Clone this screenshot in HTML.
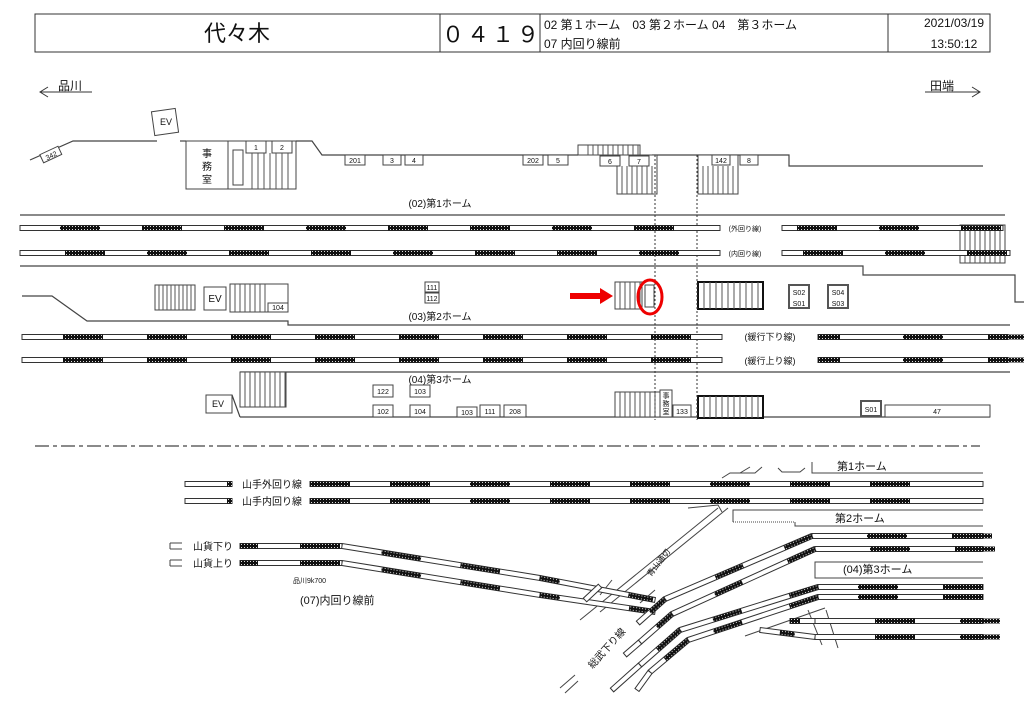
<!DOCTYPE html>
<html><head><meta charset="utf-8">
<style>
html,body{margin:0;padding:0;background:#fff;}
svg{display:block;font-family:"Liberation Sans","Noto Sans CJK JP",sans-serif;}
</style></head>
<body>
<svg id="s" width="1024" height="724" viewBox="0 0 1024 724" xmlns="http://www.w3.org/2000/svg">
<defs>
<pattern id="car" width="3" height="3" patternUnits="userSpaceOnUse">
<rect width="3" height="3" fill="#111"/><rect x="1" y="1" width="1" height="1" fill="#ddd"/>
</pattern>
</defs>
<g fill="none" stroke="#333" stroke-width="1">
<rect x="35" y="14" width="955" height="38" fill="#fff"/>
<line x1="440" y1="14" x2="440" y2="52"/>
<line x1="540" y1="14" x2="540" y2="52"/>
<line x1="888" y1="14" x2="888" y2="52"/>
</g>
<g fill="#111">
<text x="237" y="41" font-size="22" text-anchor="middle">代々木</text>
<text x="492" y="42" font-size="22" text-anchor="middle" letter-spacing="3">０４１９</text>
<text x="544" y="29" font-size="12">02 第１ホーム　03 第２ホーム 04　第３ホーム</text>
<text x="544" y="48" font-size="12">07 内回り線前</text>
<text x="954" y="27" font-size="12" text-anchor="middle">2021/03/19</text>
<text x="954" y="48" font-size="12" text-anchor="middle">13:50:12</text>
<text x="58" y="90" font-size="12">品川</text>
<text x="930" y="90" font-size="12">田端</text>
</g>
<g fill="none" stroke="#333" stroke-width="1">
<line x1="40" y1="92" x2="92" y2="92"/><polyline points="48,87 40,92 48,97"/>
<line x1="925" y1="92" x2="980" y2="92"/><polyline points="972,87 980,92 972,97"/>
</g>

<g fill="none" stroke="#444" stroke-width="1.2">
<polyline points="30,160 73,141 157,141"/>
<polyline points="180,141 186,141"/>
<polyline points="296,141 312,141 322,155 578,155"/>
<polyline points="652,155 789,155 789,166 983,166"/>
<line x1="20" y1="215" x2="1005" y2="215"/>
<polyline points="20,266 863,266 863,275 1015,275 1015,302 1024,302"/>
<polyline points="22,296 52,296 87,321 288,321 288,325 1010,325"/>
<line x1="240" y1="372" x2="1010" y2="372"/>
<polyline points="240,417 990,417"/>
<polyline points="232,395 240,417"/>
</g>
<g fill="#fff" stroke="#444" stroke-width="1">
<rect x="153" y="110" width="24" height="24" transform="rotate(-8 165 122)"/>
<rect x="41" y="150" width="20" height="9" transform="rotate(-25 51 155)"/>
<rect x="186" y="141" width="42" height="48"/>
<rect x="228" y="141" width="68" height="48"/>
<rect x="246" y="141" width="20" height="12"/><rect x="272" y="141" width="20" height="12"/>
<rect x="233" y="150" width="10" height="35"/>
<rect x="345" y="155" width="20" height="10"/><rect x="383" y="155" width="18" height="10"/><rect x="405" y="155" width="18" height="10"/>
<rect x="523" y="155" width="20" height="10"/><rect x="548" y="155" width="20" height="10"/>
<rect x="578" y="145" width="62" height="10"/>
<rect x="617" y="155" width="40" height="39"/>
<rect x="600" y="156" width="20" height="10"/><rect x="629" y="156" width="20" height="10"/>
<rect x="698" y="155" width="40" height="39"/>
<rect x="712" y="155" width="18" height="10"/><rect x="740" y="155" width="18" height="10"/>
<rect x="960" y="225" width="45" height="38"/>
<rect x="155" y="285" width="40" height="25"/>
<rect x="204" y="287" width="22" height="23"/>
<rect x="230" y="284" width="58" height="28"/>
<rect x="268" y="303" width="20" height="9"/>
<rect x="425" y="282" width="14" height="10"/><rect x="425" y="293" width="14" height="10"/>
<rect x="615" y="282" width="27" height="27"/>
<rect x="698" y="282" width="65" height="27" stroke="#111" stroke-width="2"/>
<rect x="789" y="285" width="20" height="23" stroke="#555" stroke-width="2"/>
<rect x="828" y="285" width="20" height="23" stroke="#555" stroke-width="2"/>
<rect x="240" y="372" width="46" height="35"/>
<rect x="206" y="395" width="26" height="18"/>
<rect x="373" y="385" width="20" height="12"/><rect x="410" y="385" width="20" height="12"/>
<rect x="373" y="405" width="20" height="12"/><rect x="410" y="405" width="20" height="12"/>
<rect x="457" y="407" width="20" height="10"/><rect x="480" y="405" width="20" height="12"/><rect x="504" y="405" width="22" height="12"/>
<rect x="615" y="392" width="45" height="25"/>
<rect x="660" y="390" width="12" height="27"/>
<rect x="673" y="405" width="18" height="12"/>
<rect x="698" y="396" width="65" height="22" stroke="#111" stroke-width="2"/>
<rect x="861" y="401" width="20" height="15" stroke="#555" stroke-width="2"/>
<rect x="885" y="405" width="105" height="12"/>
</g>
<g stroke="#555" stroke-width="1" id="stairs"></g>
<g fill="#111" font-size="7" text-anchor="middle">
<text x="166" y="125" font-size="9">EV</text>
<text x="51" y="158" transform="rotate(-25 51 155)">342</text>
<text x="207" y="157" font-size="10">事</text><text x="207" y="170" font-size="10">務</text><text x="207" y="183" font-size="10">室</text>
<text x="256" y="150">1</text><text x="282" y="150">2</text>
<text x="355" y="163">201</text><text x="392" y="163">3</text><text x="414" y="163">4</text>
<text x="533" y="163">202</text><text x="558" y="163">5</text>
<text x="610" y="164">6</text><text x="639" y="164">7</text>
<text x="721" y="163">142</text><text x="749" y="163">8</text>
<text x="440" y="207" font-size="10">(02)第1ホーム</text>
<text x="745" y="231" font-size="7">(外回り線)</text>
<text x="745" y="256" font-size="7">(内回り線)</text>
<text x="215" y="302" font-size="10">EV</text>
<text x="278" y="310">104</text>
<text x="432" y="290">111</text><text x="432" y="301">112</text>
<text x="440" y="320" font-size="10">(03)第2ホーム</text>
<text x="770" y="340" font-size="9">(緩行下り線)</text>
<text x="770" y="364" font-size="9">(緩行上り線)</text>
<text x="440" y="383" font-size="10">(04)第3ホーム</text>
<text x="218" y="407" font-size="9">EV</text>
<text x="383" y="394">122</text><text x="420" y="394">103</text>
<text x="383" y="414">102</text><text x="420" y="414">104</text>
<text x="467" y="415">103</text><text x="490" y="414">111</text><text x="515" y="414">208</text>
<text x="666" y="398">事</text><text x="666" y="406">務</text><text x="666" y="414">室</text>
<text x="682" y="414">133</text>
<text x="799" y="295">S02</text><text x="799" y="306">S01</text>
<text x="838" y="295">S04</text><text x="838" y="306">S03</text>
<text x="871" y="412">S01</text><text x="937" y="414">47</text>
</g>
<g stroke="#333" stroke-dasharray="2,2">
<line x1="655" y1="155" x2="655" y2="420"/><line x1="697" y1="155" x2="697" y2="420"/>
</g>
<polygon points="570,293 600,293 600,288 613,296 600,304 600,299 570,299" fill="#e00"/>
<rect x="645" y="285" width="9" height="22" fill="#fff" stroke="#444"/>
<ellipse cx="650" cy="297" rx="12" ry="17" fill="none" stroke="#e00" stroke-width="3"/>
<line x1="35" y1="446" x2="980" y2="446" stroke="#444" stroke-width="1.2" stroke-dasharray="14,4,4,4"/>

<g fill="none" stroke="#444" stroke-width="1">
<polyline points="812,462 812,473 983,473"/>
<polyline points="983,510 733,510 733,522"/>
<line x1="733" y1="522" x2="795" y2="522" stroke-dasharray="1,1"/>
<polyline points="795,522 795,526 983,526"/>
<polyline points="983,562 815,562 815,578 983,578"/>
<line x1="580" y1="620" x2="718" y2="508"/><line x1="600" y1="612" x2="728" y2="508"/>
<polyline points="688,508 718,505 722,512"/>
<polyline points="722,478 730,473 755,473 762,467"/><line x1="740" y1="473" x2="750" y2="467"/>
<polyline points="778,468 782,472 800,472 805,468"/>
<line x1="170" y1="543" x2="182" y2="543"/><line x1="170" y1="543" x2="170" y2="549"/><line x1="170" y1="549" x2="182" y2="549"/>
<line x1="170" y1="560" x2="182" y2="560"/><line x1="170" y1="560" x2="170" y2="566"/><line x1="170" y1="566" x2="182" y2="566"/>
<line x1="600" y1="595" x2="612" y2="580"/><line x1="640" y1="603" x2="655" y2="590"/>
<line x1="808" y1="610" x2="822" y2="645"/><line x1="826" y1="610" x2="838" y2="648"/>
<line x1="745" y1="636" x2="825" y2="608"/>
<line x1="560" y1="688" x2="575" y2="675"/><line x1="565" y1="693" x2="578" y2="681"/>
</g>
<g id="tr"></g>
<g fill="#111" text-anchor="start">
<text x="837" y="470" font-size="11">第1ホーム</text>
<text x="242" y="488" font-size="10">山手外回り線</text>
<text x="242" y="505" font-size="10">山手内回り線</text>
<text x="835" y="522" font-size="11">第2ホーム</text>
<text x="193" y="550" font-size="10">山貨下り</text>
<text x="193" y="567" font-size="10">山貨上り</text>
<text x="843" y="573" font-size="11">(04)第3ホーム</text>
<text x="293" y="583" font-size="7">品川9k700</text>
<text x="300" y="604" font-size="11">(07)内回り線前</text>
<text x="585" y="668" font-size="10" transform="rotate(-48 590 660)">総武下り線</text>
<text x="645" y="575" font-size="8" transform="rotate(-52 650 570)">青山通切</text>
</g>
</svg>
<script>
(function(){
var NS="http://www.w3.org/2000/svg",g=document.getElementById("tr"),st=document.getElementById("stairs");
function el(t,a,p){var e=document.createElementNS(NS,t);for(var k in a)e.setAttribute(k,a[k]);(p||g).appendChild(e);return e;}
function seg(x1,y1,x2,y2){var dx=x2-x1,dy=y2-y1,L=Math.sqrt(dx*dx+dy*dy),a=Math.atan2(dy,dx)*180/Math.PI;
 return {L:L,t:"translate("+x1+","+y1+") rotate("+a+")"};}
function track(x1,y1,x2,y2,cars,w){w=w||40;var s=seg(x1,y1,x2,y2);var gg=el("g",{transform:s.t});
 el("rect",{x:0,y:-2.5,width:s.L,height:5,fill:"#fff",stroke:"#333","stroke-width":1},gg);
 (cars||[]).forEach(function(c){var cx=c[0]!==undefined?c[0]:c,cw=c[1]||w;el("rect",{x:cx,y:-2.5,width:cw,height:5,fill:"url(#car)"},gg);});}
function carsAt(start,step,n,len,w){var a=[];for(var i=0;i<n;i++){var x=start+i*step;if(x+ (w||40)<=len)a.push(x);}return a;}
track(20,228,720,228,carsAt(40,82,9,700));
track(782,228,1003,228,carsAt(15,82,3,221));
track(20,253,720,253,carsAt(45,82,9,700));
track(782,253,1010,253,carsAt(21,82,3,228));
track(22,337,722,337,carsAt(41,84,8,700));
track(818,337,1008,337,[[0,22],85,170]);
track(22,360,722,360,carsAt(41,84,8,700));
track(818,360,1008,360,[[0,22],85,170]);
track(185,484,232,484,[[42,5]]);track(310,484,983,484,carsAt(0,80,9,673));
track(185,501,232,501,[[42,5]]);track(310,501,983,501,carsAt(0,80,9,673));
track(240,546,342,546,[[0,18],60]);track(342,546,540,578,[40,120]);track(540,578,655,600,[[0,20],[90,25]]);
track(240,563,342,563,[[0,18],60]);track(342,563,540,595,[40,120]);track(540,595,655,612,[[0,20],[90,25]]);
track(812,536,983,536,[55,140]);track(812,536,665,599,[[0,30],[75,30]]);track(665,599,638,623,[[0,20]]);
track(815,549,983,549,[55,140]);track(815,549,672,614,[[0,30],[80,30]]);track(672,614,640,642,[[0,20]]);track(640,642,625,655,[]);
track(818,587,983,587,[40,125]);track(818,587,680,630,[[0,30],[80,30]]);track(680,630,640,665,[[0,30]]);track(640,665,612,690,[]);
track(818,597,983,597,[40,125]);track(818,597,688,640,[[0,30],[80,30]]);track(688,640,650,672,[[0,30]]);track(650,672,637,690,[]);
track(815,621,983,621,[60,145]);track(790,621,815,621,[[0,10]]);
track(815,637,983,637,[60,145]);track(760,630,815,637,[[20,15]]);
track(585,600,600,586,[]);
function hatch(x,y,w,h,step){for(var i=x+step;i<x+w;i+=step)el("line",{x1:i,y1:y,x2:i,y2:y+h},st);}
hatch(246,153,46,36,6);hatch(617,166,40,28,5);hatch(698,166,40,28,5);hatch(583,145,56,10,5);
hatch(960,225,45,38,5);hatch(155,285,40,25,4);hatch(230,284,38,28,5);hatch(615,282,27,27,5);
hatch(240,372,46,35,5);hatch(615,392,45,25,5);hatch(698,282,65,27,6);hatch(698,396,65,22,6);
})();
</script>
</body></html>
